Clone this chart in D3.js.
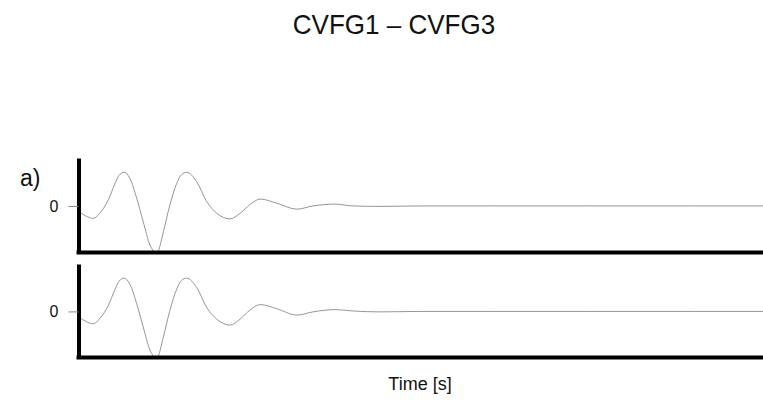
<!DOCTYPE html>
<html>
<head>
<meta charset="utf-8">
<script src="https://cdn.jsdelivr.net/npm/d3@7"></script>
<style>
  html, body { margin: 0; padding: 0; background: #fff; }
  svg { display: block; }
</style>
</head>
<body>
<svg id="chart" width="763" height="401"></svg>
<script>
// ---- data ----
const title = "CVFG1 – CVFG3";
const panelLabels = ["a)", ""];
const xLabel = "Time [s]";
const yTickValues = [0];
const times = [0.01, 0.22, 0.43, 0.63, 0.87, 1.07, 1.18, 1.33, 1.50, 1.70, 1.89, 2.09, 2.19, 2.26, 2.33, 2.48, 2.67, 2.87, 3.01, 3.16, 3.45, 3.75, 4.04, 4.43, 4.72, 5.01, 5.31, 5.79, 6.38, 6.85, 7.49, 8.02, 8.81, 9.98, 12.0, 15.0, 18.0, 20.0];
const seriesA = [-0.12, -0.22, -0.27, -0.15, 0.13, 0.49, 0.66, 0.73, 0.60, 0.17, -0.34, -0.85, -0.98, -1.04, -0.98, -0.56, 0.02, 0.49, 0.68, 0.73, 0.53, 0.09, -0.16, -0.28, -0.16, 0.03, 0.15, 0.06, -0.07, 0.00, 0.04, 0.00, -0.01, 0.00, 0.00, 0.00, 0.00, 0.00];
const seriesB = [-0.12, -0.22, -0.27, -0.15, 0.13, 0.49, 0.66, 0.73, 0.60, 0.17, -0.34, -0.85, -0.98, -1.04, -0.98, -0.56, 0.02, 0.49, 0.68, 0.73, 0.53, 0.08, -0.17, -0.30, -0.17, 0.03, 0.15, 0.06, -0.08, -0.01, 0.04, 0.01, -0.01, 0.00, 0.00, 0.00, 0.00, 0.00];
const allSeries = [seriesA, seriesB];

// ---- layout ----
const svg = d3.select("#chart");
const left = 78.5, right = 763;
const panels = [{top: 158, bottom: 252.5}, {top: 264, bottom: 357.5}];

const x = d3.scaleLinear().domain([0, 20]).range([left, right]);

svg.append("text")
  .attr("x", 394).attr("y", 34)
  .attr("text-anchor", "middle")
  .attr("transform", "translate(394,0) scale(0.93,1) translate(-394,0)")
  .style("font-family", "'Liberation Sans', Arial, Helvetica, sans-serif")
  .style("font-size", "28px")
  .attr("fill", "#111")
  .text(title);

panels.forEach((p, i) => {
  const y = d3.scaleLinear().domain([-1.01, 1.04]).range([p.bottom, p.top]);
  const g = svg.append("g");

  const clipId = "clip" + i;
  svg.append("clipPath").attr("id", clipId)
    .append("rect")
    .attr("x", left).attr("y", p.top - 5)
    .attr("width", right - left).attr("height", p.bottom - p.top + 5);

  const line = d3.line()
    .x((d, j) => x(times[j]))
    .y(d => y(d))
    .curve(d3.curveMonotoneX);

  g.append("path")
    .datum(allSeries[i])
    .attr("clip-path", `url(#${clipId})`)
    .attr("fill", "none")
    .attr("stroke", "#8a8a8a")
    .attr("stroke-width", 0.9)
    .attr("d", line);

  // y axis
  const yAxis = d3.axisLeft(y).tickValues(yTickValues).tickSize(10).tickSizeOuter(0).tickFormat(d3.format("d"));
  const ya = g.append("g").attr("transform", `translate(${left},0)`).call(yAxis);
  ya.attr("font-size", 16).attr("font-family", "'Liberation Sans', Arial, Helvetica, sans-serif");
  ya.select(".domain").attr("stroke", "#000").attr("stroke-width", 4);
  ya.selectAll(".tick line").attr("stroke", "#888").attr("stroke-width", 1);
  ya.selectAll(".tick text")
    .attr("x", -20)
    .attr("font-size", 16)
    .attr("fill", "#111");

  // x axis (no ticks)
  const xAxis = d3.axisBottom(x).tickValues([]).tickSizeOuter(0);
  const xa = g.append("g").attr("transform", `translate(0,${p.bottom})`).call(xAxis);
  xa.select(".domain").attr("stroke", "#000").attr("stroke-width", 4)
    .attr("d", `M${left - 2},0H${right}`);

  if (panelLabels[i]) {
    g.append("text")
      .attr("x", 20).attr("y", 186)
      .style("font-family", "'Liberation Sans', Arial, Helvetica, sans-serif")
      .style("font-size", "23px")
      .attr("fill", "#111")
      .text(panelLabels[i]);
  }
});

svg.append("text")
  .attr("x", 420).attr("y", 390)
  .attr("text-anchor", "middle")
  .style("font-family", "'Liberation Sans', Arial, Helvetica, sans-serif")
  .style("font-size", "18px")
  .attr("fill", "#111")
  .text(xLabel);
</script>
</body>
</html>
